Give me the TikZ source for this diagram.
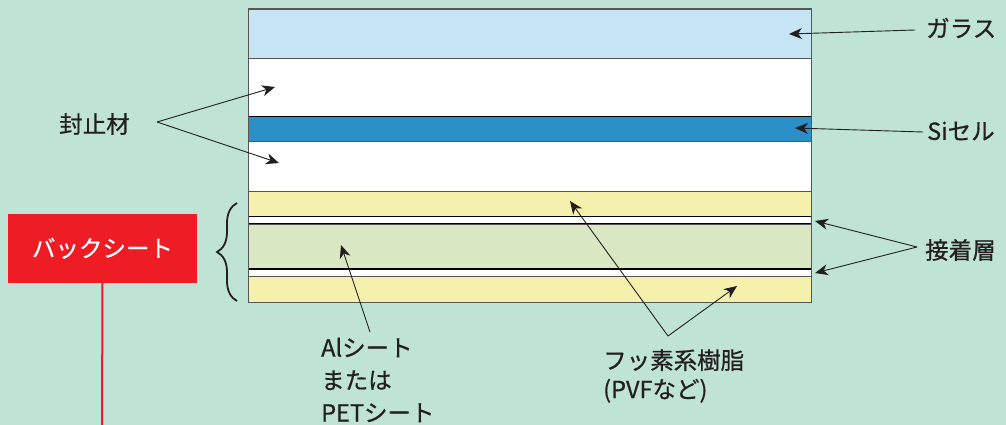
\documentclass[tikz,border=0pt]{standalone}
\usepackage{fontspec}
\setmainfont[FakeBold=0.6]{Noto Sans CJK JP}
\usetikzlibrary{arrows.meta,decorations.pathreplacing}
\definecolor{bg}{HTML}{BFE3D5}
\definecolor{glassc}{HTML}{C5E5F4}
\definecolor{sic}{HTML}{2C90C8}
\definecolor{yel}{HTML}{F5F0AC}
\definecolor{grn}{HTML}{D9E8C2}
\definecolor{redc}{HTML}{EE1C25}
\definecolor{txt}{HTML}{231F20}
\definecolor{edge}{HTML}{555555}
\begin{document}
\begin{tikzpicture}[x=1pt,y=-1pt,
  arr/.style={draw=txt, line width=0.9pt, -{Stealth[length=13pt,width=11pt,inset=4pt]}},
  lbl/.style={font=\fontsize{23.5}{26}\selectfont, text=txt, inner sep=0pt, anchor=west},
  layer/.style={draw=edge, line width=0.8pt},
  thinl/.style={draw=black, line width=1.4pt, fill=white}]
\fill[bg] (0,0) rectangle (1006,425);
\useasboundingbox (0,0) rectangle (1006,425);
% layers
\path[layer, fill=glassc] (248.5,9) rectangle (811.5,58.7);
\path[layer, fill=white] (248.5,58.7) rectangle (811.5,116.5);
\path[draw=black, line width=0.9pt, fill=sic] (248.5,116.5) rectangle (811.5,141.5);
\path[layer, fill=white] (248.5,141.5) rectangle (811.5,191);
\path[layer, fill=yel] (248.5,191) rectangle (811.5,216);
\path[thinl] (248.5,216.5) rectangle (811.5,224);
\path[layer, fill=grn] (248.5,224) rectangle (811.5,268.8);
\path[thinl] (248.5,269) rectangle (811.5,276.5);
\path[layer, fill=yel] (248.5,276.5) rectangle (811.5,302.5);
\draw[edge, line width=1pt] (248.5,9) rectangle (811.5,302.5);
% labels
\node[lbl] (glass) at (926,28) {ガラス};
\node[lbl] (si) at (927,131) {Siセル};
\node[lbl] (adh) at (925,250) {接着層};
\node[lbl] (seal) at (59,124) {封止材};
\node[lbl, align=left, font=\fontsize{23.5}{32.5}\selectfont] (al) at (321,380) {Alシート\\または\\PETシート};
\node[lbl, align=left, font=\fontsize{23.5}{29}\selectfont] (fl) at (603,376) {フッ素系樹脂\\(PVFなど)};
\node[fill=redc, minimum width=189pt, minimum height=69pt, inner sep=0pt, text=white, font=\fontsize{23.5}{26}\selectfont] (bs) at (102.5,248.3) {バックシート};
% coordinates
\coordinate (gS) at (915,30);   \coordinate (gT) at (789,34);
\coordinate (sS) at (923,132);  \coordinate (sT) at (795,128);
\coordinate (aS) at (917,247);  \coordinate (aT1) at (815,221); \coordinate (aT2) at (815,273);
\coordinate (eS) at (157,122);  \coordinate (eT1) at (275,87);  \coordinate (eT2) at (279,163);
\coordinate (lS) at (370,332);  \coordinate (lT) at (341,245);
\coordinate (fV) at (668,336);  \coordinate (fT1) at (570,201); \coordinate (fT2) at (737,286);
\coordinate (bsEnd) at (102,425);
% arrows
\draw[arr] (gS) -- (gT);
\draw[arr] (sS) -- (sT);
\draw[arr] (aS) -- (aT1);
\draw[arr] (aS) -- (aT2);
\draw[arr] (eS) -- (eT1);
\draw[arr] (eS) -- (eT2);
\draw[arr] (lS) -- (lT);
\draw[arr] (fV) -- (fT1);
\draw[arr] (fV) -- (fT2);
% red line
\draw[redc, line width=2pt] (bs.south) -- (bsEnd);
% brace
\draw[txt, line width=1.8pt, decorate, decoration={brace, amplitude=20pt}] (237,301) -- (237,203);
\end{tikzpicture}
\end{document}
